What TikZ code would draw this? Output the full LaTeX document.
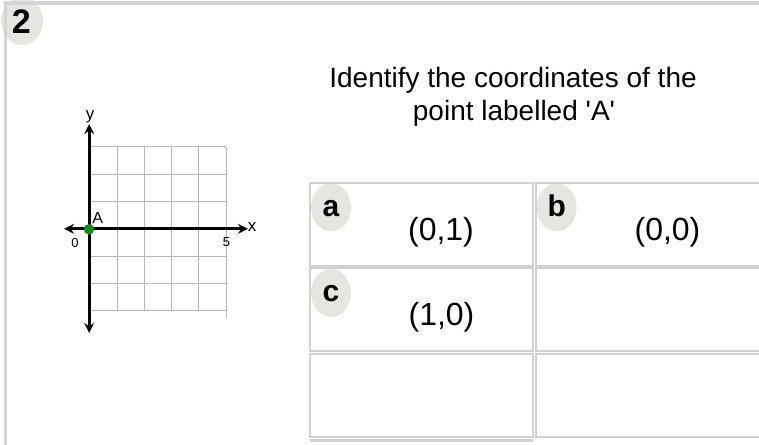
\documentclass[tikz,border=0pt]{standalone}
\usepackage{fontspec}
\setmainfont{Liberation Sans}
\usetikzlibrary{arrows.meta}
\definecolor{frameg}{HTML}{D4D4D4}
\definecolor{cellg}{HTML}{D2D2D2}
\definecolor{badgeg}{HTML}{E6E6E0}
\definecolor{gridg}{HTML}{B8B8B8}
\definecolor{ptgreen}{HTML}{178A17}
\tikzset{
  cellbox/.style={draw=cellg, line width=2pt},
  badge/.style={fill=badgeg},
  gridline/.style={draw=gridg, line width=0.9pt},
  axisline/.style={draw=black, line width=3.2pt, {Stealth[length=10pt,width=10pt]}-{Stealth[length=10pt,width=10pt]}},
  letter/.style={font=\bfseries\fontsize{30}{30}\selectfont, anchor=base},
  answer/.style={font=\fontsize{32}{32}\selectfont, anchor=base},
  qtext/.style={font=\fontsize{28}{28}\selectfont, anchor=base},
  axlabel/.style={font=\fontsize{17}{17}\selectfont, inner sep=0pt},
  ticklabel/.style={font=\fontsize{13}{13}\selectfont, inner sep=0pt}
}
\begin{document}
\begin{tikzpicture}[x=1pt,y=-1pt]
\useasboundingbox (0,0) rectangle (759,444);
\clip (0,0) rectangle (759,444);
% number badge
\fill[badge] (22,21) ellipse [x radius=21, y radius=24];
\draw[frameg, line width=3.4pt] (5.7,446) -- (5.7,3) -- (762,3);
\node[font=\bfseries\fontsize{34}{34}\selectfont, anchor=base] (num) at (21.3,33.5) {2};
% question
\node[qtext] (q1) at (513,87.3) {Identify the coordinates of the};
\node[qtext] (q2) at (514,120.3) {point labelled \textquotesingle A\textquotesingle};
% grid
\foreach \i in {0,...,4} \draw[gridline] ({90+27.2*\i},146.7) -- ({90+27.2*\i},310.7);
\draw[gridline] (226,146.7) -- (226,318);
\foreach \j in {0,...,6} \draw[gridline] (90,{146.7+27.33*\j}) -- (226,{146.7+27.33*\j});
% axes
\coordinate (xl) at (64,228.8);
\coordinate (xr) at (248,228.8);
\coordinate (yt) at (89.2,124);
\coordinate (yb) at (89.2,333);
\draw[axisline] (xl) -- (xr);
\draw[axisline] (yt) -- (yb);
\fill[ptgreen] (89,229.3) circle[radius=5.3pt];
\node[axlabel] (ly) at (90,117) {y};
\node[axlabel] (lx) at (252,227.5) {x};
\node[axlabel, font=\fontsize{16}{16}\selectfont] (lA) at (97.6,217.5) {A};
\node[ticklabel] (l0) at (75,243.5) {0};
\node[ticklabel] (l5) at (226.5,242) {5};
% answer cells
\fill[badge] (331,207.4) ellipse [x radius=20, y radius=24];
\fill[badge] (556.7,207.4) ellipse [x radius=20, y radius=24];
\fill[badge] (331,293) ellipse [x radius=20, y radius=24];
\draw[cellbox] (310,182.7) rectangle (533,265.7);
\draw[cellbox] (536,182.7) rectangle (760,265.7);
\draw[cellbox] (310,268.3) rectangle (533,350.5);
\draw[cellbox] (536,268.3) rectangle (760,350.5);
\draw[cellbox] (310,353.5) rectangle (533,436.5);
\draw[cellbox] (536,353.5) rectangle (760,436.5);
\draw[cellg, line width=3pt] (310,440.5) -- (533,440.5);
\node[letter] (la) at (331,216.5) {a};
\node[letter] (lb) at (556.7,216.5) {b};
\node[letter] (lc) at (331,301.7) {c};
\node[answer] (aa) at (441,240) {(0,1)};
\node[answer] (ab) at (667.5,240) {(0,0)};
\node[answer] (ac) at (441.5,325) {(1,0)};
\end{tikzpicture}
\end{document}
